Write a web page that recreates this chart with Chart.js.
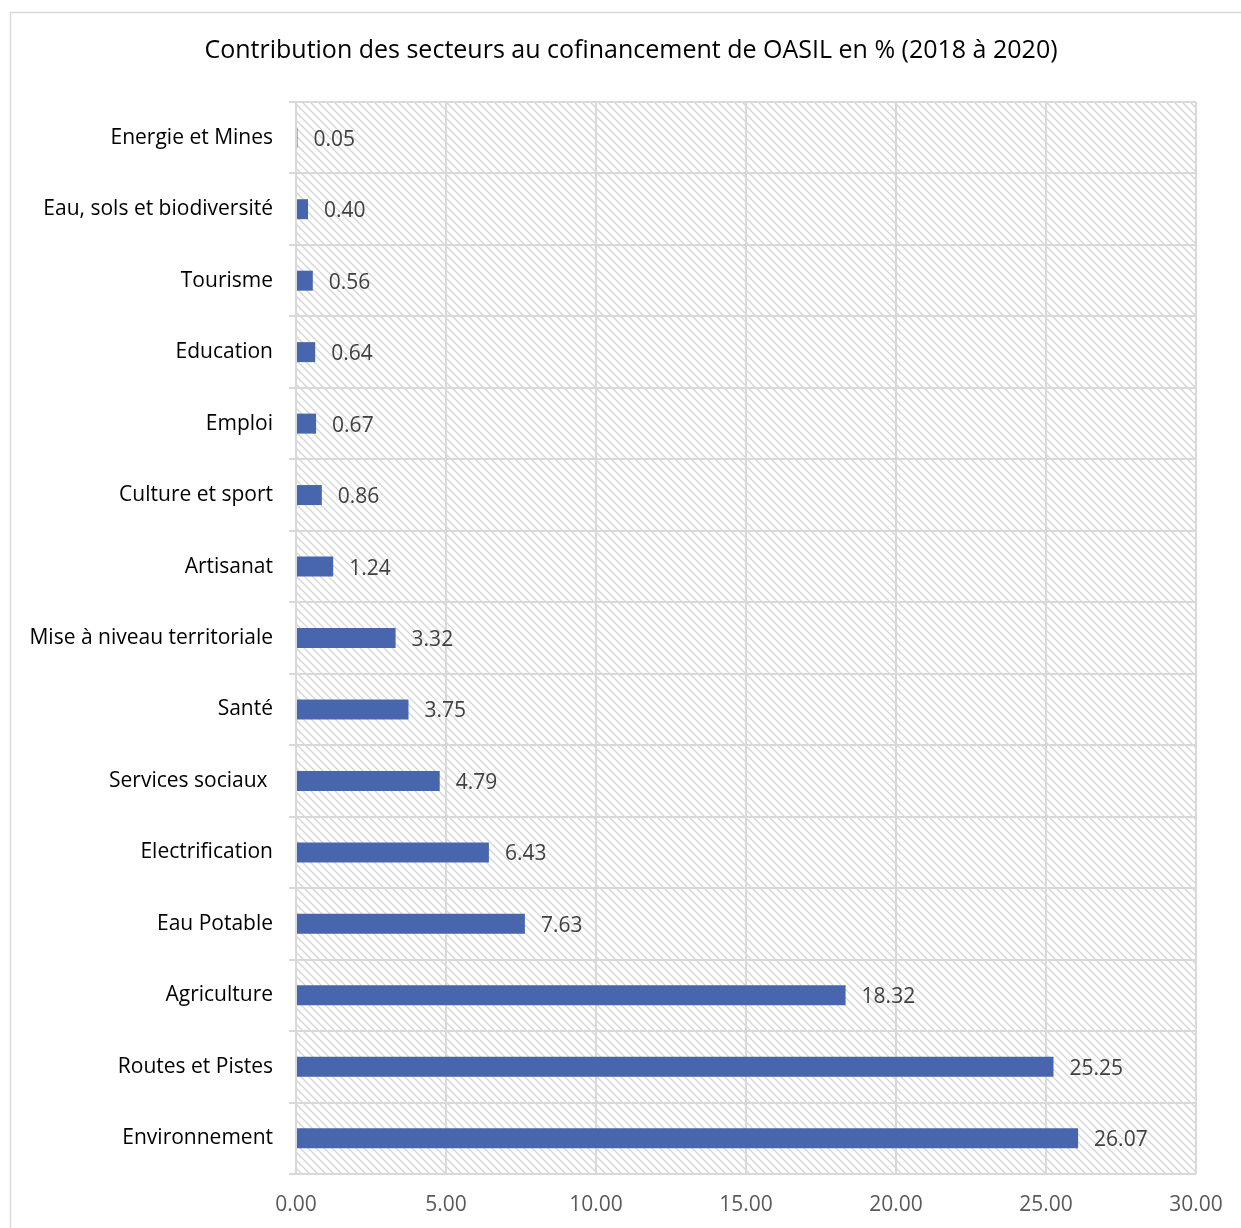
<!DOCTYPE html>
<html>
<head>
<meta charset="utf-8">
<script src="https://cdn.jsdelivr.net/npm/chart.js@4"></script>
<style>
  html, body { margin: 0; padding: 0; background: #fff; }
  #wrap { width: 1241px; height: 1228px; position: relative; }
</style>
</head>
<body>
<div id="wrap"><canvas id="graficoSecteurs"></canvas></div>
<script>
const secteurs = [
  'Energie et Mines', 'Eau, sols et biodiversité', 'Tourisme', 'Education',
  'Emploi', 'Culture et sport', 'Artisanat', 'Mise à niveau territoriale',
  'Santé', 'Services sociaux ', 'Electrification', 'Eau Potable',
  'Agriculture', 'Routes et Pistes', 'Environnement'
];
const contributions = [
  0.05, 0.40, 0.56, 0.64, 0.67, 0.86, 1.24, 3.32,
  3.75, 4.79, 6.43, 7.63, 18.32, 25.25, 26.07
];
const titre = 'Contribution des secteurs au cofinancement de OASIL en % (2018 à 2020)';

const police = "'Open Sans', 'Noto Sans', sans-serif";

function motifHachure(ctx) {
  const c = document.createElement('canvas');
  c.width = 8; c.height = 8;
  const p = c.getContext('2d');
  p.strokeStyle = '#d4d4d4';
  p.lineWidth = 1.3;
  p.beginPath();
  p.moveTo(-2, -2); p.lineTo(10, 10);
  p.moveTo(-2, 6); p.lineTo(2, 10);
  p.moveTo(6, -2); p.lineTo(10, 2);
  p.stroke();
  return ctx.createPattern(c, 'repeat');
}

// fond hachuré + cadre + titre
const fondPlugin = {
  id: 'fond',
  beforeDraw(chart) {
    const { ctx, chartArea: a } = chart;
    ctx.save();
    ctx.strokeStyle = '#d9d9d9';
    ctx.lineWidth = 1.5;
    ctx.strokeRect(10.5, 12.5, 1400, 1400);
    ctx.fillStyle = motifHachure(ctx);
    ctx.fillRect(a.left, a.top, a.right - a.left, a.bottom - a.top);
    ctx.font = '25px ' + police;
    ctx.fillStyle = '#000';
    ctx.textAlign = 'center';
    ctx.textBaseline = 'middle';
    ctx.fillText(titre, 631, 51);
    ctx.restore();
  }
};

// étiquettes de valeurs
const valeursPlugin = {
  id: 'valeurs',
  afterDatasetsDraw(chart) {
    const { ctx } = chart;
    const meta = chart.getDatasetMeta(0);
    ctx.save();
    ctx.font = '21px ' + police;
    ctx.fillStyle = '#404040';
    ctx.textBaseline = 'middle';
    ctx.textAlign = 'left';
    meta.data.forEach((bar, i) => {
      ctx.fillText(contributions[i].toFixed(2), bar.x + 16, bar.y + 2);
    });
    ctx.restore();
  }
};

const ctx = document.getElementById('graficoSecteurs').getContext('2d');
window.chartSecteurs = new Chart(ctx, {
  type: 'bar',
  data: {
    labels: secteurs,
    datasets: [{
      data: contributions,
      backgroundColor: '#4866ad',
      barPercentage: 0.28,
      categoryPercentage: 1
    }]
  },
  options: {
    indexAxis: 'y',
    responsive: true,
    maintainAspectRatio: false,
    animation: false,
    layout: { padding: { left: 0, right: 45, top: 102, bottom: 0 } },
    plugins: {
      legend: { display: false },
      tooltip: { enabled: false },
      title: { display: false }
    },
    scales: {
      x: {
        min: 0,
        max: 30,
        ticks: {
          stepSize: 5,
          color: '#595959',
          font: { family: police, size: 21 },
          padding: 18,
          callback: v => Number(v).toFixed(2)
        },
        grid: { color: '#d9d9d9', lineWidth: 2, drawTicks: false },
        border: { display: false },
        afterFit(scale) { scale.height = 54; }
      },
      y: {
        ticks: {
          color: '#000',
          font: { family: police, size: 21 },
          padding: 16
        },
        grid: { color: '#d9d9d9', lineWidth: 2, tickLength: 7 },
        border: { color: '#d9d9d9', width: 2 },
        afterFit(scale) { scale.width = 296; }
      }
    }
  },
  plugins: [fondPlugin, valeursPlugin]
});
</script>
</body>
</html>
